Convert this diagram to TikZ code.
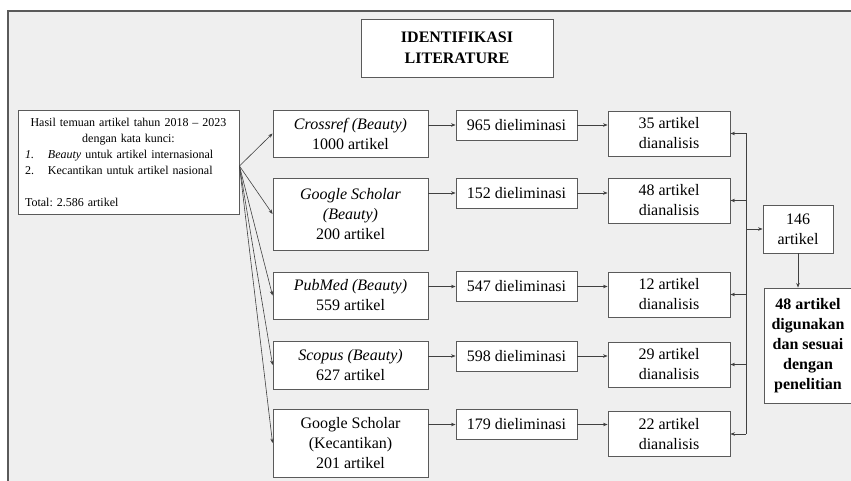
\documentclass[tikz,border=0pt]{standalone}
\usepackage{fontspec}
\setmainfont{Liberation Serif}
\usetikzlibrary{arrows.meta}
\definecolor{latar}{HTML}{EFEFEF}
\definecolor{tepi}{HTML}{5A5A5A}
\frenchspacing
\tikzset{
	kotak/.style={draw=tepi, line width=0.9pt, fill=white, align=center, inner sep=2pt, font=\fontsize{16}{20}\selectfont},
	garis/.style={draw=black!75, line width=0.6pt},
	panah/.style={garis, -{Stealth[length=4.5pt,width=3.5pt]}},
}

\begin{document}
\begin{tikzpicture}[x=1pt, y=-1pt]
	\useasboundingbox (0,0) rectangle (851,481);
	\fill[latar](8,11) rectangle (851,481);
	\draw[tepi, line width=1.5pt](8,481)--(8,11)--(851,11);
	\node[kotak, minimum width=192pt, minimum height=58pt, font=\fontsize{16}{21}\selectfont\bfseries](judul) at (457,48){IDENTIFIKASI\\LITERATURE};
	\node[kotak, text width=207pt, minimum height=104pt, inner xsep=7pt, inner ysep=4pt, align=left, font=\fontsize{12}{16}\selectfont](hasil) at (128.5,162){\centering Hasil temuan artikel tahun 2018 -- 2023\\dengan kata kunci:\par\raggedright\textit{1.}\hspace{14pt}\textit{Beauty} untuk artikel internasional\\2.\hspace{14pt}Kecantikan untuk artikel nasional\\[16pt]Total: 2.586 artikel};
	\coordinate (fan) at ([yshift=-4pt]hasil.east);
	\coordinate (bus) at (746,0);
	% sumber data
	\node[kotak, minimum width=155pt, minimum height=47pt](crossref) at (350.5,133.5){\textit{Crossref (Beauty)}\\1000 artikel};
	\node[kotak, minimum width=155pt, minimum height=72pt](gsbeauty) at (350.5,214){\textit{Google Scholar}\\\textit{(Beauty)}\\200 artikel};
	\node[kotak, minimum width=155pt, minimum height=47pt](pubmed) at (350.5,295.5){\textit{PubMed (Beauty)}\\559 artikel};
	\node[kotak, minimum width=155pt, minimum height=48pt](scopus) at (350.5,365){\textit{Scopus (Beauty)}\\627 artikel};
	\node[kotak, minimum width=155pt, minimum height=68pt](gskeca) at (350.5,443){Google Scholar\\(Kecantikan)\\201 artikel};
	% eliminasi dan analisis
	\foreach \i/\y/\jml/\ya/\ana in {1/125/965/133.5/35, 2/193/152/200.5/48, 3/286.5/547/294.5/12, 4/356/598/364.5/29, 5/424.5/179/434/22}{
		\node[kotak, minimum width=121pt, minimum height=30pt](elim\i) at (516.5,\y){\jml{} dieliminasi};
		\node[kotak, minimum width=122pt, minimum height=45pt](ana\i) at (669,\ya){\ana{} artikel\\dianalisis};
	}
	\node[kotak, minimum width=70pt, minimum height=48pt](total) at (798,229){146\\artikel};
	\node[kotak, minimum width=88pt, minimum height=115pt, font=\fontsize{16}{20}\selectfont\bfseries](akhir) at (808,345.5){48 artikel\\digunakan\\dan sesuai\\dengan\\penelitian};
	% panah
	\foreach \src/\i in {crossref/1, gsbeauty/2, pubmed/3, scopus/4, gskeca/5}{
		\draw[panah](fan)--(\src.west);
		\draw[panah](elim\i.west -| \src.east)--(elim\i.west);
		\draw[panah](elim\i.east)--(elim\i.east -| ana\i.west);
		\draw[panah](ana\i.east -| bus)--(ana\i.east);
	}
	\draw[garis](ana1.east -| bus)--(ana5.east -| bus);
	\draw[panah](total.west -| bus)--(total.west);
	\draw[panah](total.south)--(total.south |- akhir.north);
\end{tikzpicture}
\end{document}
